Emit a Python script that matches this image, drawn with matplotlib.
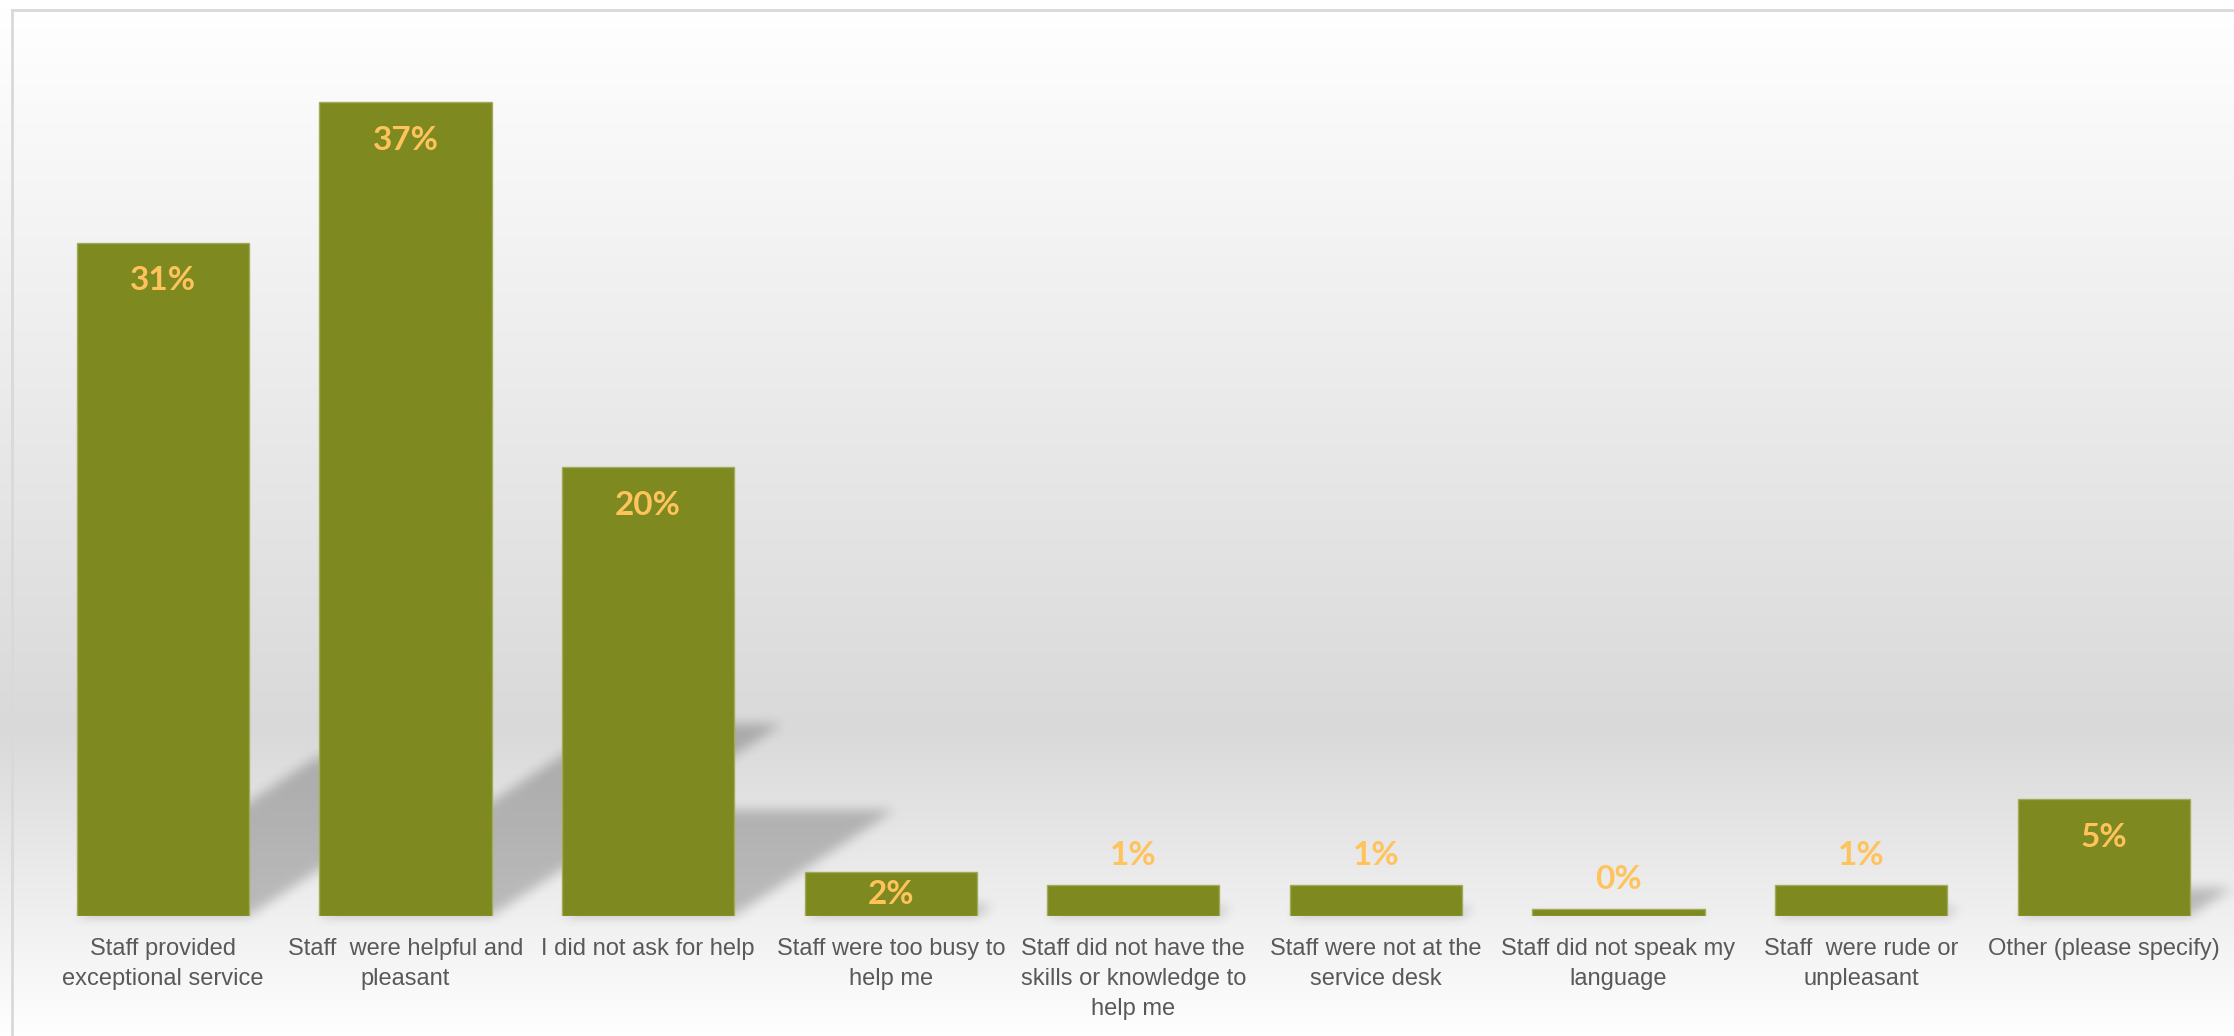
import numpy as np
import matplotlib
matplotlib.use("Agg")
import matplotlib.pyplot as plt

# Survey responses (percent of respondents)
categories = [
    "Staff provided\nexceptional service",
    "Staff  were helpful and\npleasant",
    "I did not ask for help",
    "Staff were too busy to\nhelp me",
    "Staff did not have the\nskills or knowledge to\nhelp me",
    "Staff were not at the\nservice desk",
    "Staff did not speak my\nlanguage",
    "Staff  were rude or\nunpleasant",
    "Other (please specify)",
]
values = [30.6, 37.0, 20.4, 2.0, 1.4, 1.4, 0.3, 1.4, 5.3]

W, H = 2234, 1036
DPI = 100
BAR_COLOR = "#7e891f"
BAR_EDGE = "#a3ab5a"
LABEL_COLOR = "#ffc35c"
TEXT_COLOR = "#595959"

fig = plt.figure(figsize=(W / DPI, H / DPI), dpi=DPI)

# ---- background: vertical gradient white -> grey -> white, with a thin frame
bg = fig.add_axes([0, 0, 1, 1], zorder=-2)
bg.set_xlim(0, W)
bg.set_ylim(0, H)
bg.axis("off")
rows = np.arange(H)  # row 0 = top of image
top_y, mid_y, bot_y = 9.0, 728.0, 1040.0
light, dark = 255.0, 217.0
t = np.where(
    rows < mid_y,
    1 - np.clip((rows - top_y) / (mid_y - top_y), 0, 1),
    np.clip((rows - mid_y) / (bot_y - mid_y), 0, 1),
)
g = dark + (light - dark) * t
g[rows < top_y] = 255
col = (g / 255.0)[:, None]
grad = np.dstack([col, col, col])
bg.imshow(grad, extent=(0, W, 0, H), aspect="auto", origin="upper",
          interpolation="bilinear", zorder=0)
frame_c = "#d9d9d9"
bg.plot([12, 12], [0, H - 9.5], color=frame_c, lw=2, zorder=1)
bg.plot([12, W], [H - 9.5, H - 9.5], color=frame_c, lw=2, zorder=1)

# ---- main axes
base_px = 916
top_px = 36
left_px = 41.7
right_px = 2225.0
ax = fig.add_axes([left_px / W, (H - base_px) / H,
                   (right_px - left_px) / W, (base_px - top_px) / H], zorder=1)
ax.patch.set_alpha(0)
ax.set_xlim(-0.5, len(categories) - 0.5)
ax.set_ylim(0, 40)
for sp in ax.spines.values():
    sp.set_visible(False)
ax.set_yticks([])

x = np.arange(len(categories))
bar_w = 0.71
bars = ax.bar(x, values, width=bar_w, color=BAR_COLOR, edgecolor=BAR_EDGE,
              linewidth=1.0, zorder=3)

ax.set_xticks(x)
ax.set_xticklabels(categories, fontsize=17, color=TEXT_COLOR,
                   fontfamily="Liberation Sans", linespacing=1.45)
ax.tick_params(axis="x", length=0, pad=16)

# ---- skewed drop shadows cast up and to the right, softened
shear, squash = 0.355, 0.235
mask = np.zeros((H, W))
yy, xx = np.mgrid[0:H, 0:W]
ydisp = H - 1 - yy
for xi, v in zip(x, values):
    (X0, Yb) = ax.transData.transform((xi - bar_w / 2, 0))
    (X1, Yt) = ax.transData.transform((xi + bar_w / 2, v))
    hpx = Yt - Yb
    sh_h = squash * hpx
    rel = ydisp - Yb
    inside_y = (rel >= 0) & (rel <= sh_h)
    off = shear * rel / squash
    inside = inside_y & (xx >= X0 + off) & (xx <= X1 + off)
    mask[inside] = 1.0


def box_blur(a, r, axis):
    c = np.cumsum(np.pad(a, [(r + 1, r) if i == axis else (0, 0)
                             for i in range(a.ndim)], mode="edge"), axis=axis)
    n = a.shape[axis]
    hi = np.take(c, np.arange(2 * r + 1, 2 * r + 1 + n), axis=axis)
    lo = np.take(c, np.arange(0, n), axis=axis)
    return (hi - lo) / (2 * r + 1)


for _ in range(3):
    mask = box_blur(mask, 5, 0)
    mask = box_blur(mask, 5, 1)

shadow = np.zeros((H, W, 4))
shadow[..., 3] = 0.22 * mask
bg.imshow(shadow, extent=(0, W, 0, H), aspect="auto", origin="upper",
          interpolation="bilinear", zorder=0.5)

# ---- value labels
px_per_unit = (ax.transData.transform((0, 1))[1] - ax.transData.transform((0, 0))[1])
for xi, v in zip(x, values):
    hpx = v * px_per_unit
    txt = f"{v:.0f}%"
    if hpx >= 40:
        dy = -min(38, hpx / 2)
    else:
        dy = 30
    ax.annotate(txt, (xi, v), xytext=(0, dy * 72 / DPI), textcoords="offset points",
                ha="center", va="center", fontsize=24, fontweight="bold",
                color=LABEL_COLOR, fontfamily="Lato", zorder=4)

fig.savefig("out.png", dpi=DPI)
